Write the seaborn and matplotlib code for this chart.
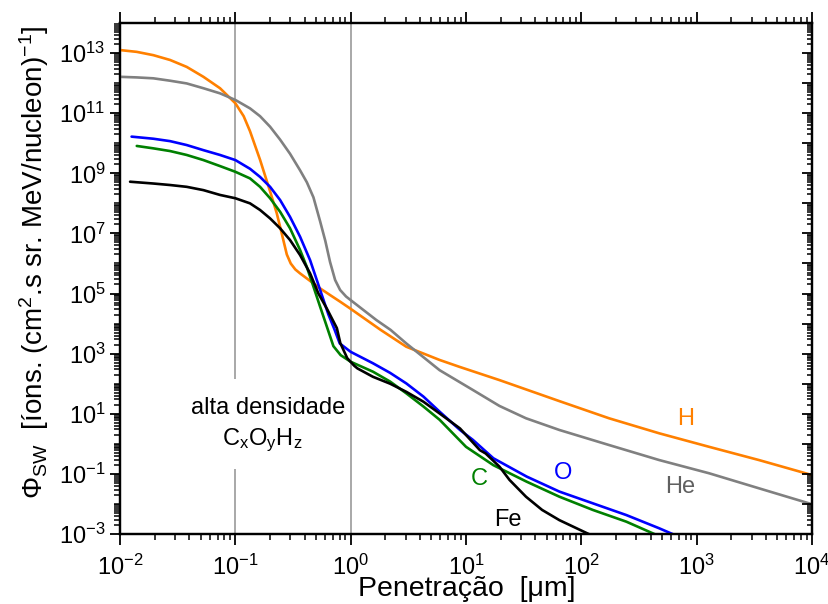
import matplotlib
matplotlib.use("Agg")
import matplotlib.pyplot as plt
import matplotlib.ticker as mticker
import numpy as np
import pandas as pd
import seaborn as sns

# Solar-wind ion flux versus penetration depth.
# Values are stored as decimal exponents: depth = 10**log_depth (um),
# flux = 10**log_flux (ions cm^-2 s^-1 sr^-1 (MeV/nucleon)^-1).
h_log_depth = [-2.0, -1.855, -1.711, -1.566, -1.422, -1.277, -1.133, -1.0, -0.928, -0.873,
               -0.786, -0.699, -0.641, -0.598, -0.554, -0.52, -0.48, -0.439, -0.352, -0.265,
               -0.179, -0.092, 0.0, 0.26, 0.482, 0.771, 0.944, 1.29, 1.81, 2.24, 2.675,
               3.108, 3.54, 4.0]
h_log_flux = [13.10, 13.04, 12.93, 12.77, 12.54, 12.21, 11.83, 11.33, 10.9, 10.4,
              9.45, 8.4, 7.67, 7.0, 6.3, 6.0, 5.8, 5.67, 5.42, 5.17,
              4.95, 4.73, 4.49, 3.79, 3.23, 2.79, 2.56, 2.12, 1.42, 0.85, 0.35,
              -0.10, -0.54, -1.04]

he_log_depth = [-2.0, -1.855, -1.711, -1.566, -1.422, -1.277, -1.133, -1.0, -0.873, -0.786,
                -0.699, -0.612, -0.526, -0.439, -0.38, -0.323, -0.265, -0.22, -0.179, -0.135,
                -0.092, -0.04, 0.0, 0.222, 0.346, 0.482, 0.771, 1.06, 1.29, 1.52, 1.81,
                2.24, 2.675, 3.108, 3.54, 4.0]
he_log_flux = [12.21, 12.19, 12.16, 12.08, 11.99, 11.83, 11.66, 11.44, 11.16, 10.9,
               10.55, 10.12, 9.65, 9.1, 8.7, 8.2, 7.4, 6.75, 6.05, 5.45,
               5.12, 4.9, 4.78, 4.12, 3.79, 3.34, 2.45, 1.79, 1.26, 0.85, 0.46,
               -0.04, -0.54, -0.98, -1.48, -2.01]

o_log_depth = [-1.9, -1.711, -1.566, -1.422, -1.277, -1.133, -1.0, -0.873, -0.786, -0.699,
               -0.612, -0.526, -0.439, -0.352, -0.294, -0.237, -0.193, -0.14, -0.095, 0.0,
               0.193, 0.342, 0.482, 0.631, 0.771, 0.948, 1.06, 1.237, 1.526, 1.81, 2.1,
               2.39, 2.675, 2.85]
o_log_flux = [10.22, 10.15, 10.07, 9.94, 9.77, 9.61, 9.44, 9.15, 8.88, 8.55,
              8.11, 7.55, 6.89, 6.11, 5.45, 4.8, 4.3, 3.8, 3.34, 3.06,
              2.68, 2.36, 2.01, 1.57, 1.07, 0.46, 0.13, -0.48, -1.09, -1.59, -1.98,
              -2.37, -2.81, -3.1]

c_log_depth = [-1.855, -1.711, -1.566, -1.422, -1.277, -1.133, -1.0, -0.873, -0.786, -0.699,
               -0.612, -0.526, -0.439, -0.381, -0.323, -0.265, -0.22, -0.15, -0.087, 0.0,
               0.193, 0.342, 0.482, 0.631, 0.771, 1.0, 1.237, 1.526, 1.81, 2.1, 2.39, 2.65,
               2.7]
c_log_flux = [9.91, 9.83, 9.74, 9.61, 9.44, 9.24, 9.05, 8.83, 8.55, 8.17,
              7.72, 7.17, 6.45, 5.89, 5.23, 4.56, 4.05, 3.25, 2.95, 2.73,
              2.40, 2.07, 1.68, 1.24, 0.80, -0.1, -0.71, -1.26, -1.76, -2.2, -2.59, -3.03,
              -3.1]

fe_log_depth = [-1.913, -1.711, -1.566, -1.422, -1.277, -1.133, -1.0, -0.873, -0.786, -0.699,
                -0.612, -0.526, -0.439, -0.352, -0.28, -0.207, -0.12, -0.09, -0.03, 0.03,
                0.058, 0.193, 0.342, 0.482, 0.631, 0.771, 0.948, 1.12, 1.17, 1.29, 1.377,
                1.52, 1.66, 1.81, 2.08, 2.12]
fe_log_flux = [8.72, 8.66, 8.61, 8.55, 8.44, 8.28, 8.17, 8.0, 7.78, 7.5,
               7.17, 6.78, 6.28, 5.67, 5.0, 4.5, 3.85, 3.35, 2.85, 2.6,
               2.51, 2.23, 2.0, 1.73, 1.4, 1.01, 0.51, -0.21, -0.32, -0.76, -1.2,
               -1.76, -2.2, -2.54, -3.03, -3.1]

ions = ["H", "He", "O", "C", "Fe"]
ion_colors = {"H": "#FF8000", "He": "#808080", "O": "#0000FF", "C": "#008000", "Fe": "#000000"}
series = {"H": (h_log_depth, h_log_flux), "He": (he_log_depth, he_log_flux),
          "O": (o_log_depth, o_log_flux), "C": (c_log_depth, c_log_flux),
          "Fe": (fe_log_depth, fe_log_flux)}

# curve labels: (depth um, flux) anchor
label_pos = {"H": (809, 6.7), "He": (718, 0.036), "O": (69, 0.107),
             "C": (13, 0.067), "Fe": (23.1, 0.0029)}
label_colors = {"H": "#FF8000", "He": "#606060", "O": "#0000FF", "C": "#008000", "Fe": "#000000"}

frames = [pd.DataFrame({"depth": 10.0 ** np.asarray(series[k][0]),
                        "flux": 10.0 ** np.asarray(series[k][1]), "ion": k}) for k in ions]
df = pd.concat(frames, ignore_index=True)

sns.set_theme(style="ticks")
plt.rcParams["font.family"] = ["Liberation Sans", "DejaVu Sans"]
plt.rcParams["mathtext.fontset"] = "custom"
plt.rcParams["mathtext.rm"] = "Liberation Sans"
plt.rcParams["mathtext.it"] = "Liberation Sans:italic"
plt.rcParams["mathtext.bf"] = "Liberation Sans:bold"
for key in ("text.color", "axes.labelcolor", "xtick.color", "ytick.color", "axes.edgecolor"):
    plt.rcParams[key] = "black"

fig = plt.figure(figsize=(8.29, 6.04), dpi=100)
ax = fig.add_axes([0.1448, 0.1159, 0.8347, 0.8460])
ax.set_xscale("log")
ax.set_yscale("log")
ax.set_xlim(1e-2, 1e4)
ax.set_ylim(1e-3, 1e14)

# reference depths: 0.1 um (broken around the annotation) and 1 um
ax.vlines(0.1, 143, 1e14, color="#999999", lw=1.2, zorder=1)
ax.vlines(0.1, 1e-3, 0.145, color="#999999", lw=1.2, zorder=1)
ax.vlines(1.0, 1e-3, 1e14, color="#999999", lw=1.2, zorder=1)

sns.lineplot(data=df, x="depth", y="flux", hue="ion", palette=ion_colors, sort=False,
             estimator=None, legend=False, lw=1.9, ax=ax, zorder=3)

for k in ions:
    ax.text(label_pos[k][0], label_pos[k][1], k, color=label_colors[k], fontsize=17,
            ha="center", va="center")

ax.text(0.192, 15.5, "alta densidade", fontsize=17, ha="center", va="center")
ax.text(0.17, 1.3, r"$\mathregular{C_xO_yH_z}$", fontsize=17, ha="center", va="center")

sup = lambda v, pos: r"$\mathregular{10^{%d}}$" % int(round(np.log10(v)))

ax.xaxis.set_major_locator(mticker.LogLocator(base=10, numticks=20))
ax.xaxis.set_minor_locator(mticker.LogLocator(base=10, subs=np.arange(2, 10), numticks=100))
ax.xaxis.set_major_formatter(mticker.FuncFormatter(sup))
ax.xaxis.set_minor_formatter(mticker.NullFormatter())

y_major = [10.0 ** e for e in range(-3, 14, 2)]
y_minor = [m * 10.0 ** e for e in range(-3, 14) for m in range(1, 10)
           if not (m == 1 and e % 2 != 0)]
ax.yaxis.set_major_locator(mticker.FixedLocator(y_major))
ax.yaxis.set_minor_locator(mticker.FixedLocator(y_minor))
ax.yaxis.set_major_formatter(mticker.FuncFormatter(sup))
ax.yaxis.set_minor_formatter(mticker.NullFormatter())

ax.tick_params(axis="x", which="major", direction="out", length=8, width=1.3,
               top=True, bottom=True, labelsize=17, pad=7)
ax.tick_params(axis="x", which="minor", direction="out", length=4.5, width=1.1,
               top=True, bottom=True)
ax.tick_params(axis="y", which="major", direction="out", length=7.5, width=1.3,
               left=True, right=False, labelsize=17, pad=3)
ax.tick_params(axis="y", which="minor", direction="out", length=4, width=1.1,
               left=True, right=False)

# right-hand axis: inward ticks at every decade
ax2 = ax.twinx()
ax2.set_yscale("log")
ax2.set_ylim(ax.get_ylim())
ax2.yaxis.set_major_locator(mticker.LogLocator(base=10, numticks=30))
ax2.yaxis.set_minor_locator(mticker.LogLocator(base=10, subs=np.arange(2, 10), numticks=200))
ax2.yaxis.set_major_formatter(mticker.NullFormatter())
ax2.yaxis.set_minor_formatter(mticker.NullFormatter())
ax2.tick_params(axis="y", which="major", direction="in", length=7.5, width=1.3, labelright=False)
ax2.tick_params(axis="y", which="minor", direction="in", length=3.5, width=1.1)

for a in (ax, ax2):
    for s in a.spines.values():
        s.set_linewidth(1.6)
        s.set_color("black")
        s.set_visible(True)

ax.set_xlabel("Penetração  [μm]", fontsize=20.5)
ax.set_ylabel(r"$\mathregular{\Phi_{SW}}$  [íons. (cm$\mathregular{^2}$.s sr. MeV/nucleon)$\mathregular{^{-1}}$]",
              fontsize=20)
ax.xaxis.set_label_coords(0.501, -0.082)
ax.yaxis.set_label_coords(-0.10, 0.532)

fig.savefig("out.png", dpi=100)
